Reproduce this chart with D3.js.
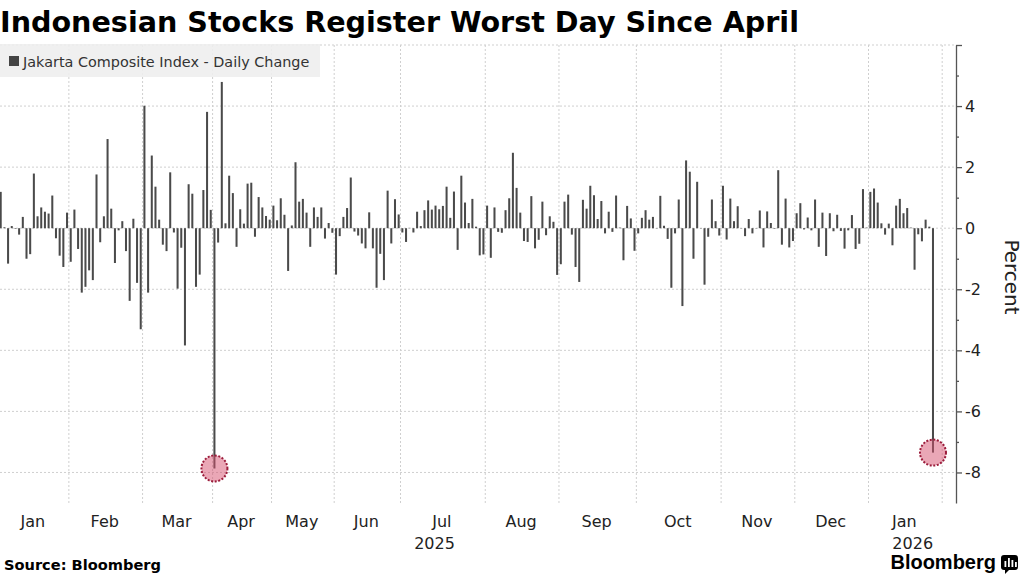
<!DOCTYPE html>
<html>
<head>
<meta charset="utf-8">
<script src="https://cdn.jsdelivr.net/npm/d3@7"></script>
<style>
  body { margin: 0; background: #fff; }
  svg { display: block; font-family: "DejaVu Sans", sans-serif; }
</style>
</head>
<body>
<svg id="chart" width="1024" height="576"></svg>
<script>
// Jakarta Composite Index, daily % change, one array per month (trading days)
let jan25 = [1.19, 0.03, -1.16, 0.07, -0.02, -0.21, 0.37, -1.0, -0.85, 1.79, 0.39, 0.68, 0.54, 0.48, 1.07, -0.33, -0.9, -1.27, 0.51]
let feb25 = [-1.1, 0.61, -0.68, -2.11, -1.92, -1.38, -1.7, 1.76, -0.46, 0.39, 2.92, 0.64, -1.14, -0.07, 0.23, -0.75, -2.38, 0.31, -1.79, -3.31]
let mar25 = [4.01, -2.11, 2.38, 1.36, 0.28, -0.54, -0.75, 1.83, -0.14, -1.98, -0.64, -3.84, 1.44, 1.13, -1.92, -1.52, 1.25, 3.81, 0.6]
let apr25 = [-7.87, -0.47, 4.79, 0.16, 1.72, 1.15, -0.61, 0.62, 0.15, 1.46, 1.49, -0.28, 1.02, 0.68, 0.4, 0.28]
let may25 = [0.74, 0.26, 0.98, 0.44, -1.4, 0.09, 2.16, 0.87, 0.96, 0.51, -0.61, 0.68, 0.37, 0.68, -0.34, 0.17, -0.15]
let jun25 = [-1.52, -0.26, 0.37, 0.66, 1.66, -0.11, -0.24, -0.5, -0.66, 0.52, -0.66, -1.95, -0.84, -1.7, 1.23, -0.5, 0.95, 0.45]
let jul25 = [-0.14, -0.45, 0.01, -0.14, 0.54, 0.07, 0.59, 0.91, 0.61, 0.74, 0.62, 0.73, 1.36, 0.34, 1.2, -0.71, 1.72, 0.84, 0.17, 0.96, 0.05, -0.89, -0.86]
let aug25 = [0.74, -0.97, 0.68, -0.12, -0.15, 0.59, 0.98, 2.47, 1.32, 0.51, -0.42, -0.45, 1.05, -0.66, -0.38, 0.87, -0.23, 0.39, 0.21, -1.53]
let sep25 = [-1.18, 0.87, 1.1, -0.21, -1.27, -1.76, 0.93, 0.64, 1.39, 1.08, 0.3, 0.89, -0.17, 0.54, -0.12, 1.07, 0.02, -1.05, 0.73, 0.32, -0.74]
let oct25 = [-0.17, 0.34, 0.59, 0.28, 0.37, -0.01, 1.06, 0.08, -0.35, -1.95, -0.17, 0.94, -2.55, 2.22, 1.85, -1.0, 1.52, -0.01, -1.85, -0.28, 0.94, 0.23, -0.24]
let nov25 = [1.39, -0.37, 0.97, 0.23, 0.72, -0.01, -0.26, 0.3, -0.17, -0.01, 0.58, -0.63, 0.55, 0.17, -0.02, 1.9, -0.54, 0.97, -0.63, -0.42]
let dec25 = [0.49, 0.82, -0.04, 0.35, -0.07, 0.94, -0.61, 0.51, -0.91, 0.49, -0.1, 0.44, -0.09, -0.67, -0.07, 0.43, -0.68, -0.51, 1.28, 0.02]
let jan26 = [1.19, 1.3, 0.84, 0.16, -0.21, 0.15, -0.56, 0.74, 0.96, 0.49, 0.66, 0.02, -1.36, -0.2, -0.43, 0.28, 0.05, -7.35]

let monthNames = ["Jan", "Feb", "Mar", "Apr", "May", "Jun", "Jul", "Aug", "Sep", "Oct", "Nov", "Dec", "Jan"]
let monthSlots = [19, 20, 19, 16, 17, 18, 23, 20, 21, 23, 20, 20, 20]
let yearLabels = [{ month: 6, text: "2025", anchor: "end" }, { month: 12, text: "2026", anchor: "start" }]
let yTicks = [-8, -6, -4, -2, 0, 2, 4, 6]
let yMinor = [-7, -5, -3, -1, 1, 3, 5]

let months = [jan25, feb25, mar25, apr25, may25, jun25, jul25, aug25, sep25, oct25, nov25, dec25, jan26]
let monthStart = [0]
monthSlots.forEach((n, k) => monthStart.push(monthStart[k] + n))
let total = monthStart[monthStart.length - 1]

let data = []
months.forEach((m, k) => m.forEach((v, j) => data.push({ i: monthStart[k] + j, v: v })))

let svg = d3.select("#chart")

let x = d3.scaleBand()
    .domain(d3.range(total))
    .range([-1.14, 942.2])
    .paddingInner(0.45)
    .paddingOuter(0.225)
let edge = b => x.range()[0] + b * x.step()

let y = d3.scaleLinear()
    .domain([-9, 6])
    .range([503, 45])

let axisX = 956

// grid
let grid = svg.append("g")
grid.selectAll("line.h")
    .data(yTicks)
    .enter().append("line")
    .attr("x1", 0).attr("x2", axisX)
    .attr("y1", d => y(d)).attr("y2", d => y(d))
    .attr("stroke", "#cfcfcf")
    .attr("stroke-dasharray", "2,2")
grid.selectAll("line.v")
    .data(monthStart.slice(1))
    .enter().append("line")
    .attr("x1", d => edge(d)).attr("x2", d => edge(d))
    .attr("y1", 45).attr("y2", 505)
    .attr("stroke", "#cfcfcf")
    .attr("stroke-dasharray", "2,2")

// legend
let legend = svg.append("g")
legend.append("rect")
    .attr("x", 0).attr("y", 44).attr("width", 320).attr("height", 33)
    .attr("fill", "#eeeeee").attr("opacity", 0.88)
legend.append("rect")
    .attr("x", 9).attr("y", 56).attr("width", 10).attr("height", 10)
    .attr("fill", "#444")
legend.append("text")
    .attr("x", 23).attr("y", 66.5)
    .attr("font-size", 14.4).attr("fill", "#333")
    .text("Jakarta Composite Index - Daily Change")

// bars
svg.append("g").selectAll("rect")
    .data(data)
    .enter().append("rect")
    .attr("x", d => x(d.i))
    .attr("width", x.bandwidth())
    .attr("y", d => y(Math.max(0, d.v)))
    .attr("height", d => Math.abs(y(d.v) - y(0)))
    .attr("fill", "#4a4a4a")

// highlighted sell-offs
svg.append("g").selectAll("circle")
    .data(data.filter(d => d.v < -7))
    .enter().append("circle")
    .attr("cx", d => x(d.i) + x.bandwidth() / 2)
    .attr("cy", d => y(d.v))
    .attr("r", 13)
    .attr("fill", "rgba(214, 80, 110, 0.5)")
    .attr("stroke", "#9b1c3b")
    .attr("stroke-width", 2)
    .attr("stroke-dasharray", "2,1.6")

// y axis on the right
let yAxis = d3.axisRight(y)
    .tickValues(yTicks)
    .tickSize(6)
    .tickSizeOuter(0)
    .tickPadding(3)
    .tickFormat(d => d === 6 ? "" : String(d))
let ya = svg.append("g")
    .attr("transform", `translate(${axisX},0)`)
    .call(yAxis)
ya.select(".domain").attr("stroke", "#555").attr("stroke-width", 1.3)
ya.selectAll(".tick line").attr("stroke", "#555").attr("stroke-width", 1.3)
ya.selectAll("text").attr("font-size", 16).attr("fill", "#222").attr("font-family", "DejaVu Sans")

let ym = svg.append("g")
    .attr("transform", `translate(${axisX},0)`)
    .call(d3.axisRight(y).tickValues(yMinor).tickSize(3).tickFormat(""))
ym.select(".domain").remove()
ym.selectAll(".tick line").attr("stroke", "#555").attr("stroke-width", 1.3)

svg.append("text")
    .attr("transform", "translate(1005,277) rotate(90)")
    .attr("text-anchor", "middle")
    .attr("font-size", 20).attr("fill", "#222")
    .text("Percent")

// month labels
svg.append("g").selectAll("text")
    .data(monthNames)
    .enter().append("text")
    .attr("x", (d, k) => (edge(monthStart[k]) + edge(monthStart[k + 1])) / 2 - 1)
    .attr("y", 527)
    .attr("text-anchor", "middle")
    .attr("font-size", 16).attr("fill", "#222")
    .text(d => d)

svg.append("g").selectAll("text")
    .data(yearLabels)
    .enter().append("text")
    .attr("x", d => {
        let c = (edge(monthStart[d.month]) + edge(monthStart[d.month + 1])) / 2
        return d.anchor === "end" ? c + 12 : c - 13
    })
    .attr("y", 549)
    .attr("text-anchor", d => d.anchor)
    .attr("font-size", 16).attr("fill", "#222")
    .text(d => d.text)

// title and footer
svg.append("text")
    .attr("x", 0).attr("y", 32)
    .attr("font-size", 28.6).attr("font-weight", "bold").attr("fill", "#000")
    .text("Indonesian Stocks Register Worst Day Since April")

svg.append("text")
    .attr("x", 4).attr("y", 570)
    .attr("font-size", 14.6).attr("font-weight", "bold").attr("fill", "#000")
    .text("Source: Bloomberg")

let logo = svg.append("g")
logo.append("text")
    .attr("x", 996).attr("y", 569)
    .attr("text-anchor", "end")
    .attr("font-family", "Liberation Sans, Arial, sans-serif")
    .attr("font-size", 20).attr("font-weight", "bold").attr("fill", "#000")
    .text("Bloomberg")
logo.append("rect")
    .attr("x", 1001).attr("y", 555).attr("width", 17).attr("height", 15).attr("rx", 3)
    .attr("fill", "#000")
logo.append("path")
    .attr("d", "M1005,569 L1005,574 L1010,569 Z")
    .attr("fill", "#000")
logo.selectAll("rect.b")
    .data([[1004.5, 561, 6], [1008, 558, 9], [1011.5, 560, 7], [1015, 562, 5]])
    .enter().append("rect")
    .attr("x", d => d[0]).attr("y", d => d[1]).attr("width", 1.8).attr("height", d => d[2])
    .attr("fill", "#fff")
</script>
</body>
</html>
